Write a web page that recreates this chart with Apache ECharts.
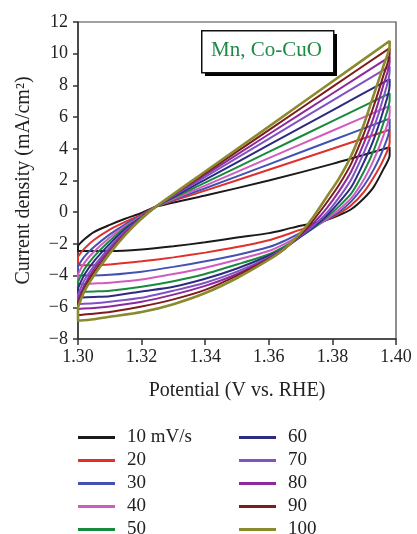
<!DOCTYPE html>
<html>
<head>
<meta charset="utf-8">
<script src="https://cdn.jsdelivr.net/npm/echarts@6/dist/echarts.min.js"></script>
<style>
html,body{margin:0;padding:0;background:#fff;}
#chart{width:417px;height:534px;}
</style>
</head>
<body>
<div id="chart"></div>
<script>
// Scan-rate names (legend)
const seriesNames = ['10 mV/s', '20', '30', '40', '50', '60', '70', '80', '90', '100'];
const seriesColors = ['#1a1a1a', '#e0302a', '#4352b2', '#d05cc0', '#188a3e', '#2d2b80', '#8052c4', '#8c2a9c', '#7e1c1c', '#8a8a2e'];

// Potential grids (V vs. RHE)
const xUpper = [1.300, 1.302, 1.305, 1.310, 1.315, 1.320, 1.3245, 1.340, 1.360, 1.380, 1.398];
const xLower = [1.398, 1.396, 1.393, 1.390, 1.386, 1.382, 1.378, 1.374, 1.370, 1.365, 1.360, 1.350, 1.340, 1.330, 1.320, 1.310, 1.305, 1.300];

// Forward (anodic) branch current densities, mA/cm2
const up10  = [-2.1, -1.7, -1.25, -0.8, -0.4, -0.05, 0.35, 1.05, 2.0, 3.05, 4.1];
const up20  = [-2.8, -2.3, -1.75, -1.1, -0.6, -0.15, 0.35, 1.36, 2.68, 4.0, 5.2];
const up30  = [-3.4, -2.8, -2.2, -1.4, -0.75, -0.2, 0.35, 1.51, 3.02, 4.54, 5.9];
const up40  = [-3.9, -3.2, -2.5, -1.6, -0.85, -0.25, 0.35, 1.68, 3.41, 5.14, 6.7];
const up50  = [-4.4, -3.6, -2.8, -1.8, -0.95, -0.3, 0.35, 1.86, 3.8, 5.75, 7.5];
const up60  = [-4.8, -3.95, -3.1, -2.0, -1.05, -0.3, 0.35, 2.05, 4.24, 6.43, 8.4];
const up70  = [-5.2, -4.3, -3.4, -2.2, -1.15, -0.35, 0.35, 2.22, 4.63, 7.04, 9.2];
const up80  = [-5.5, -4.6, -3.6, -2.35, -1.25, -0.35, 0.35, 2.35, 4.92, 7.49, 9.8];
const up90  = [-5.8, -4.8, -3.8, -2.5, -1.35, -0.4, 0.35, 2.47, 5.18, 7.91, 10.35];
const up100 = [-6.0, -5.0, -4.0, -2.6, -1.4, -0.4, 0.35, 2.57, 5.4, 8.25, 10.8];

// Reverse (cathodic) branch current densities, mA/cm2
const dn10  = [3.6, 2.7, 1.6, 0.9, 0.2, -0.2, -0.5, -0.7, -0.85, -1.1, -1.32, -1.6, -1.9, -2.15, -2.35, -2.45, -2.45, -2.45];
const dn20  = [4.4, 3.3, 2.2, 1.3, 0.45, -0.1, -0.5, -0.85, -1.1, -1.45, -1.77, -2.2, -2.55, -2.85, -3.1, -3.3, -3.35, -3.35];
const dn30  = [5.3, 4.0, 2.7, 1.7, 0.7, 0.0, -0.5, -0.95, -1.3, -1.8, -2.2, -2.7, -3.1, -3.45, -3.75, -3.95, -4.0, -4.0];
const dn40  = [6.2, 4.8, 3.3, 2.1, 0.9, 0.15, -0.45, -1.0, -1.45, -2.0, -2.45, -3.0, -3.5, -3.9, -4.25, -4.45, -4.5, -4.55];
const dn50  = [7.1, 5.6, 3.9, 2.6, 1.2, 0.35, -0.35, -1.0, -1.55, -2.15, -2.65, -3.3, -3.9, -4.35, -4.7, -4.95, -5.0, -5.05];
const dn60  = [8.0, 6.4, 4.6, 3.2, 1.6, 0.6, -0.25, -0.95, -1.55, -2.25, -2.75, -3.55, -4.2, -4.7, -5.0, -5.3, -5.35, -5.4];
const dn70  = [8.9, 7.2, 5.3, 3.8, 2.1, 0.9, -0.1, -0.85, -1.5, -2.25, -2.85, -3.75, -4.45, -4.95, -5.4, -5.65, -5.75, -5.8];
const dn80  = [9.5, 8.0, 6.0, 4.4, 2.6, 1.3, 0.2, -0.7, -1.45, -2.3, -2.9, -3.9, -4.65, -5.2, -5.65, -5.95, -6.05, -6.1];
const dn90  = [10.0, 8.6, 6.7, 5.0, 3.1, 1.7, 0.55, -0.5, -1.4, -2.3, -2.95, -4.0, -4.9, -5.5, -5.95, -6.3, -6.4, -6.5];
const dn100 = [10.5, 9.2, 7.4, 5.6, 3.6, 2.1, 0.9, -0.3, -1.3, -2.3, -3.0, -4.15, -5.1, -5.8, -6.3, -6.6, -6.75, -6.85];

// Axis ticks
const xTicks = [1.30, 1.32, 1.34, 1.36, 1.38, 1.40];
const yTicks = [-8, -6, -4, -2, 0, 2, 4, 6, 8, 10, 12];

const upperSets = [up10, up20, up30, up40, up50, up60, up70, up80, up90, up100];
const lowerSets = [dn10, dn20, dn30, dn40, dn50, dn60, dn70, dn80, dn90, dn100];

const FONT = "'Liberation Serif', 'DejaVu Serif', serif";

const series = seriesNames.map((name, k) => {
  const up = upperSets[k], dn = lowerSets[k];
  const data = xUpper.map((x, i) => [x, up[i]])
    .concat(xLower.map((x, i) => [x, dn[i]]));
  data.push([xUpper[0], up[0]]);
  return {
    name: name,
    type: 'line',
    data: data,
    showSymbol: false,
    smooth: 0.25,
    color: seriesColors[k],
    lineStyle: { width: k === 9 ? 2.6 : 2, color: seriesColors[k] },
    animation: false
  };
});

const legendText = { fontFamily: FONT, fontSize: 19, color: '#222', lineHeight: 18, padding: [0, 0, 0, 7] };

const chart = echarts.init(document.getElementById('chart'), null, { renderer: 'canvas' });
chart.setOption({
  backgroundColor: '#fff',
  animation: false,
  graphic: [
    { type: 'rect', left: 205, top: 34, z: 10, silent: true,
      shape: { width: 132, height: 42 }, style: { fill: '#000' } },
    { type: 'rect', left: 201, top: 30, z: 11, silent: true,
      shape: { width: 132, height: 42 }, style: { fill: '#fff', stroke: '#111', lineWidth: 1.5 } },
    { type: 'text', left: 211, top: 40, z: 12, silent: true,
      style: { text: 'Mn, Co-CuO', font: "21px 'Liberation Serif', 'DejaVu Serif', serif", fill: '#1e8a46' } }
  ],
  grid: {
    left: 78, top: 22, right: 21, bottom: 195,
    show: true, borderColor: '#444', borderWidth: 1.2, backgroundColor: 'transparent'
  },
  xAxis: {
    type: 'value', min: xTicks[0], max: xTicks[xTicks.length - 1], interval: 0.02,
    name: 'Potential (V vs. RHE)', nameLocation: 'middle', nameGap: 42,
    nameTextStyle: { fontFamily: FONT, fontSize: 20, color: '#222' },
    axisLine: { show: true, onZero: false, lineStyle: { color: '#333', width: 1.5 } },
    axisTick: { show: true, inside: false, length: 6, lineStyle: { color: '#333', width: 1.5 } },
    axisLabel: { fontFamily: FONT, fontSize: 18, color: '#222', margin: 9, formatter: v => v.toFixed(2) },
    splitLine: { show: false }
  },
  yAxis: {
    type: 'value', min: yTicks[0], max: yTicks[yTicks.length - 1], interval: 2,
    name: 'Current density (mA/cm²)', nameLocation: 'middle', nameGap: 44,
    nameTextStyle: { fontFamily: FONT, fontSize: 20, color: '#222' },
    axisLine: { show: true, onZero: false, lineStyle: { color: '#333', width: 1.5 } },
    axisTick: { show: true, inside: false, length: 5, lineStyle: { color: '#333', width: 1.5 } },
    axisLabel: { fontFamily: FONT, fontSize: 18, color: '#222', margin: 10,
      formatter: v => (v < 0 ? '\u2212' : '') + Math.abs(v) },
    splitLine: { show: false }
  },
  legend: [
    {
      data: seriesNames.slice(0, 5), orient: 'vertical', left: 78, top: 428, height: 200, width: 150,
      padding: 0, itemWidth: 37, itemHeight: 3, itemGap: 4, icon: 'rect', textStyle: legendText
    },
    {
      data: seriesNames.slice(5), orient: 'vertical', left: 239, top: 428, height: 200, width: 150,
      padding: 0, itemWidth: 37, itemHeight: 3, itemGap: 4, icon: 'rect', textStyle: legendText
    }
  ],
  series: series
});
</script>
</body>
</html>
